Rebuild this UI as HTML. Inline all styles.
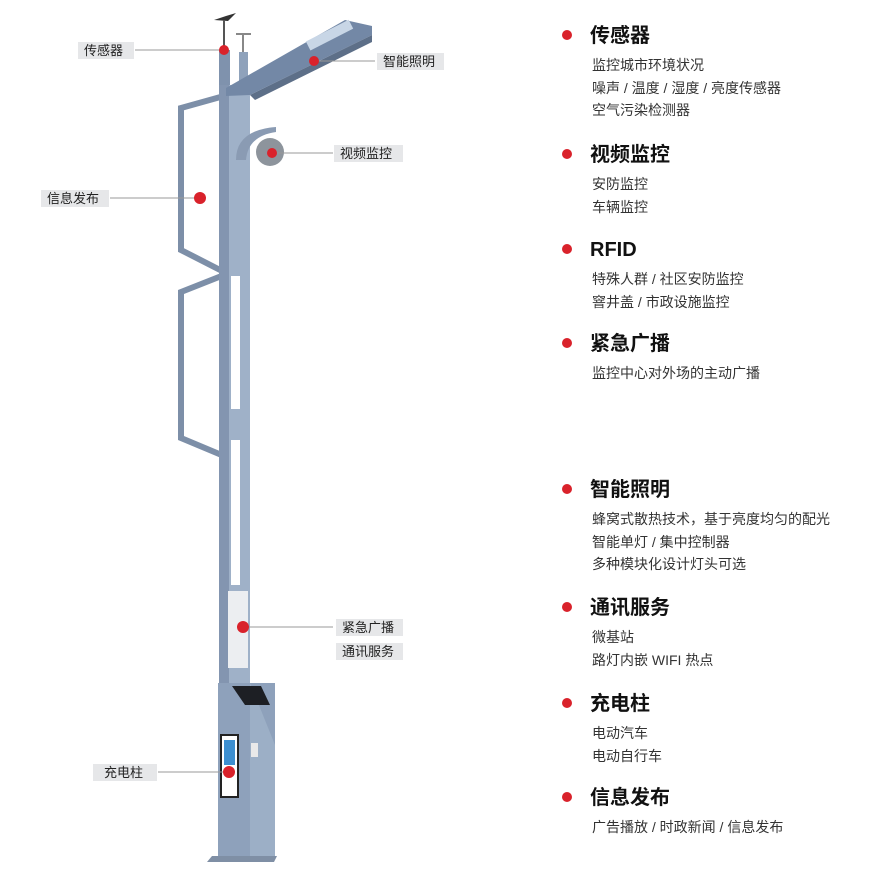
<!DOCTYPE html>
<html><head><meta charset="utf-8"><style>
html,body{margin:0;padding:0;background:#fff}
svg{display:block}
text{font-family:"Liberation Sans","Noto Sans CJK SC",sans-serif}
.h{font-size:20px;font-weight:bold;fill:#111}
.s{font-size:14px;fill:#333}
.l{font-size:13px;fill:#222}
</style></head><body>
<svg width="887" height="872" viewBox="0 0 887 872">
<g fill="none" stroke="#7d8fa8" stroke-width="6">
<polyline points="224,96 181,108 181,250 224,272"/>
<polyline points="224,275 181,292 181,438 224,456"/>
</g>
<rect x="219" y="50" width="11" height="40" fill="#7f92ad"/>
<rect x="239" y="52" width="9" height="38" fill="#8fa2bb"/>
<rect x="219" y="85" width="31" height="600" fill="#9fb1c8"/>
<rect x="219" y="85" width="10" height="600" fill="#8395b0"/>
<rect x="231" y="276" width="9" height="133" fill="#fff"/>
<rect x="231" y="440" width="9" height="145" fill="#fff"/>
<rect x="228" y="591" width="20" height="77" fill="#eceef1"/>
<polygon points="226,88 345,20 372,26 372,35 250,95 226,96" fill="#7388a6"/>
<polygon points="250,95 372,35 372,42 255,100" fill="#5d6f88"/>
<rect x="306" y="30" width="48" height="10" fill="#c8d6e6" transform="rotate(-27 330 36)"/>
<path d="M214 20 l12 -4 l10 -3 l-8 8 z" fill="#333"/>
<line x1="224" y1="20" x2="224" y2="48" stroke="#555" stroke-width="2"/>
<line x1="243" y1="34" x2="243" y2="52" stroke="#888" stroke-width="2"/>
<line x1="236" y1="34" x2="251" y2="34" stroke="#888" stroke-width="2"/>
<path d="M236 160 q0 -30 40 -33 l0 5 q-28 4 -30 28 z" fill="#8a9bb3"/>
<circle cx="270" cy="152" r="14" fill="#8d949c"/>
<rect x="218" y="683" width="57" height="175" fill="#8ea1bb"/>
<polygon points="250,683 275,745 275,858 250,858" fill="#9cafc6"/>
<polygon points="232,686 261,686 270,705 245,705" fill="#1d1f24"/>
<rect x="221" y="735" width="17" height="62" fill="#fff" stroke="#222" stroke-width="2"/>
<rect x="224" y="740" width="11" height="25" fill="#3d8fd0"/>
<rect x="251" y="743" width="7" height="14" fill="#e9e9e9"/>
<polygon points="212,856 277,856 274,862 207,862" fill="#7f8fa5"/>
<g stroke="#999" stroke-width="1">
<line x1="135" y1="50" x2="222" y2="50"/>
<line x1="314" y1="61" x2="375" y2="61"/>
<line x1="272" y1="153" x2="333" y2="153"/>
<line x1="110" y1="198" x2="200" y2="198"/>
<line x1="243" y1="627" x2="333" y2="627"/>
<line x1="158" y1="772" x2="228" y2="772"/>
</g>
<g fill="#d9222b">
<circle cx="224" cy="50" r="5"/><circle cx="314" cy="61" r="5"/>
<circle cx="272" cy="153" r="5"/><circle cx="200" cy="198" r="6"/>
<circle cx="243" cy="627" r="6"/><circle cx="229" cy="772" r="6"/>
</g>
<g fill="#e6e7e9">
<rect x="78" y="42" width="56" height="17"/>
<rect x="377" y="53" width="67" height="17"/>
<rect x="334" y="145" width="69" height="17"/>
<rect x="41" y="190" width="68" height="17"/>
<rect x="336" y="619" width="67" height="17"/>
<rect x="336" y="643" width="67" height="17"/>
<rect x="93" y="764" width="64" height="17"/>
</g>
<g class="l">
<text x="84" y="55">传感器</text>
<text x="383" y="66">智能照明</text>
<text x="340" y="158">视频监控</text>
<text x="47" y="203">信息发布</text>
<text x="342" y="632">紧急广播</text>
<text x="342" y="656">通讯服务</text>
<text x="104" y="777">充电柱</text>
</g>
<g fill="#d9222b">
<circle cx="567" cy="35" r="5"/><circle cx="567" cy="154" r="5"/>
<circle cx="567" cy="249" r="5"/><circle cx="567" cy="343" r="5"/>
<circle cx="567" cy="489" r="5"/><circle cx="567" cy="607" r="5"/>
<circle cx="567" cy="703" r="5"/><circle cx="567" cy="797" r="5"/>
</g>
<g class="h">
<text x="590" y="42">传感器</text>
<text x="590" y="161">视频监控</text>
<text x="590" y="256">RFID</text>
<text x="590" y="350">紧急广播</text>
<text x="590" y="496">智能照明</text>
<text x="590" y="614">通讯服务</text>
<text x="590" y="710">充电柱</text>
<text x="590" y="804">信息发布</text>
</g>
<g class="s">
<text x="592" y="70">监控城市环境状况</text>
<text x="592" y="93">噪声 / 温度 / 湿度 / 亮度传感器</text>
<text x="592" y="115">空气污染检测器</text>
<text x="592" y="189">安防监控</text>
<text x="592" y="212">车辆监控</text>
<text x="592" y="284">特殊人群 / 社区安防监控</text>
<text x="592" y="307">窨井盖 / 市政设施监控</text>
<text x="592" y="378">监控中心对外场的主动广播</text>
<text x="592" y="524">蜂窝式散热技术，基于亮度均匀的配光</text>
<text x="592" y="547">智能单灯 / 集中控制器</text>
<text x="592" y="569">多种模块化设计灯头可选</text>
<text x="592" y="642">微基站</text>
<text x="592" y="665">路灯内嵌 WIFI 热点</text>
<text x="592" y="738">电动汽车</text>
<text x="592" y="761">电动自行车</text>
<text x="592" y="832">广告播放 / 时政新闻 / 信息发布</text>
</g>
</svg>
</body></html>
